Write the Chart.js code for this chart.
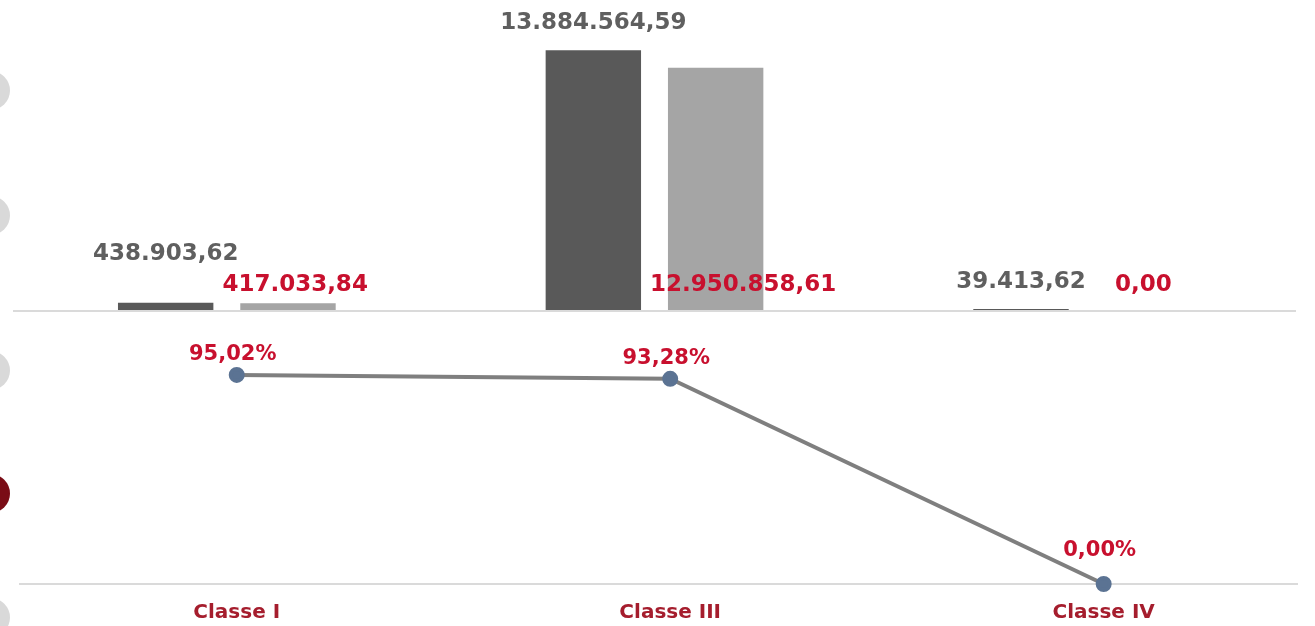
<!DOCTYPE html>
<html>
<head>
<meta charset="utf-8">
<script src="https://cdn.jsdelivr.net/npm/chart.js@4.4.0/dist/chart.umd.min.js"></script>
<style>
    html, body { margin: 0; padding: 0; background: #fff; overflow: hidden; }
    body { width: 1315px; height: 626px; position: relative; }
    #barChart { position: absolute; left: 0; top: 0; }
    #lineChart { position: absolute; left: 0; top: 320px; }
    .dot { position: absolute; left: -29px; width: 39px; height: 39px; border-radius: 50%; background: #d9d9d9; z-index: 2; }
    .dot.red { background: #7a0c16; }
</style>
</head>
<body>
<canvas id="barChart" width="1315" height="320"></canvas>
<canvas id="lineChart" width="1315" height="306"></canvas>
<div class="dot" style="top:71px"></div>
<div class="dot" style="top:196px"></div>
<div class="dot" style="top:351px"></div>
<div class="dot red" style="top:474px"></div>
<div class="dot" style="top:598px"></div>
<script>
const categories = ['Classe I', 'Classe III', 'Classe IV'];
const darkValues = [438903.62, 13884564.59, 39413.62];
const lightValues = [417033.84, 12950858.61, 0.00];
const percentages = [95.02, 93.28, 0.00];

const GRAY_TEXT = '#5f5f5f';
const RED_TEXT = '#c8102e';
const CAT_TEXT = '#a51d2d';

function fmt(v, d = 2) {
    const parts = v.toFixed(d).split('.');
    return parts[0].replace(/\B(?=(\d{3})+(?!\d))/g, '.') + ',' + parts[1];
}

// value labels over the bars (dark one moves up if it hits the red one)
const barLabels = {
    id: 'barLabels',
    afterDatasetsDraw(chart) {
        const ctx = chart.ctx;
        const base = chart.scales.y.getPixelForValue(0);
        const dark = chart.getDatasetMeta(0).data;
        const light = chart.getDatasetMeta(1).data;
        ctx.save();
        ctx.font = 'bold 23px "DejaVu Sans"';
        ctx.textBaseline = 'middle';
        ctx.textAlign = 'left';
        categories.forEach((c, i) => {
            const t2 = fmt(lightValues[i]);
            const w2 = ctx.measureText(t2).width;
            const darkRight = dark[i].x + dark[i].width / 2;
            const x2 = Math.max(light[i].x - w2 / 2, darkRight + 9);
            const y2 = base - 26;
            ctx.fillStyle = RED_TEXT;
            ctx.fillText(t2, x2, y2);

            const t1 = fmt(darkValues[i]);
            const w1 = ctx.measureText(t1).width;
            const x1 = dark[i].x - w1 / 2;
            let y1 = dark[i].y - 27;
            if (x1 + w1 > x2 - 4 && y1 > y2 - 30) y1 = y2 - 31;
            ctx.fillStyle = GRAY_TEXT;
            ctx.fillText(t1, x1, y1);
        });
        ctx.restore();
    }
};

const pctLabels = {
    id: 'pctLabels',
    afterDatasetsDraw(chart) {
        const ctx = chart.ctx;
        const pts = chart.getDatasetMeta(0).data;
        const bottom = chart.chartArea.bottom;
        ctx.save();
        ctx.font = 'bold 21px "DejaVu Sans"';
        ctx.textBaseline = 'middle';
        ctx.textAlign = 'center';
        ctx.fillStyle = RED_TEXT;
        pts.forEach((p, i) => {
            const y = Math.min(p.y - 20, bottom - 33);
            ctx.fillText(fmt(percentages[i]) + '%', p.x - 4, y);
        });
        ctx.restore();
    }
};

new Chart(document.getElementById('barChart').getContext('2d'), {
    type: 'bar',
    data: {
        labels: categories,
        datasets: [{
            data: darkValues,
            backgroundColor: '#595959',
            barPercentage: 0.78,
            categoryPercentage: 0.572,
            minBarLength: 2
        }, {
            data: lightValues,
            backgroundColor: '#a5a5a5',
            barPercentage: 0.78,
            categoryPercentage: 0.572
        }]
    },
    options: {
        responsive: false,
        animation: false,
        layout: { padding: { left: 13, right: 19, top: 20, bottom: 9 } },
        scales: {
            x: { display: false },
            y: {
                min: 0,
                max: 15500000,
                ticks: { display: false },
                border: { display: false },
                grid: {
                    drawTicks: false,
                    lineWidth: 2,
                    color: ctx => ctx.tick.value === 0 ? '#dadada' : 'transparent'
                },
                afterFit(s) { s.width = 0; }
            }
        },
        plugins: { legend: { display: false }, tooltip: { enabled: false } }
    },
    plugins: [barLabels]
});

new Chart(document.getElementById('lineChart').getContext('2d'), {
    type: 'line',
    data: {
        datasets: [{
            data: percentages.map((v, i) => ({ x: i, y: v })),
            borderColor: '#7f7f7f',
            borderWidth: 4,
            pointRadius: 6,
            pointBackgroundColor: '#5b7393',
            pointBorderColor: '#5b7393',
            tension: 0,
            clip: false
        }]
    },
    options: {
        responsive: false,
        animation: false,
        layout: { padding: { left: 20, right: 18, top: 44, bottom: 0 } },
        scales: {
            x: {
                type: 'linear',
                min: -0.5,
                max: 2.446,
                grid: { display: false },
                border: { color: '#dadada', width: 2 },
                ticks: {
                    padding: 9,
                    color: CAT_TEXT,
                    font: { family: 'DejaVu Sans', size: 20, weight: 'bold' },
                    callback: v => categories[v] || ''
                },
                afterBuildTicks(s) { s.ticks = categories.map((c, i) => ({ value: i })); },
                afterFit(s) { s.height = 42; }
            },
            y: { display: false, min: 0, max: 100 }
        },
        plugins: { legend: { display: false }, tooltip: { enabled: false } }
    },
    plugins: [pctLabels]
});
</script>
</body>
</html>
